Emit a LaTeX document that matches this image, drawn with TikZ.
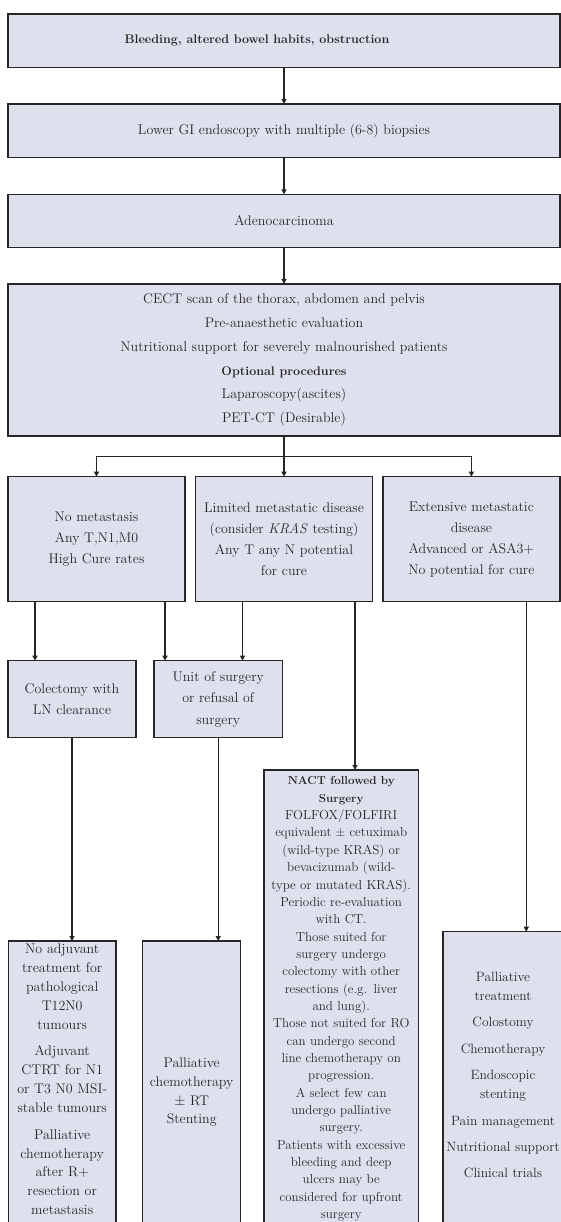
\documentclass[tikz,border=0pt]{standalone}
\usepackage{tikz}
\usetikzlibrary{arrows.meta}
\definecolor{flowfill}{RGB}{223,224,238}

\begin{document}
\begin{tikzpicture}[
			x=1pt, y=-1pt,
			box/.style={draw=black!85, line width=1.3pt, fill=flowfill, text=black!85, align=center, inner xsep=2pt, inner ysep=2pt, outer sep=0pt},
			topbox/.style={box, minimum width=552pt, text width=540pt, font=\fontsize{14}{17}\selectfont},
			colbox/.style={box, minimum width=177pt, minimum height=125pt, text width=170pt, font=\fontsize{14}{21}\selectfont},
			subbox/.style={box, minimum height=77pt, font=\fontsize{14}{21.5}\selectfont},
			openbox/.style={box, anchor=north, text height=10pt, text depth=520pt},
			arr/.style={draw=black!85, line width=1.2pt, -{Triangle[length=5pt,width=5pt]}},
			]
			\useasboundingbox (0,0) rectangle (561,1222);
			\clip (0,0) rectangle (561,1222);
			
			%% ── Work-up chain ──────────────────────────────────────────────────────
			\node[topbox, minimum height=53.3pt] (sympt) at (284,40.7) {\fontsize{12.5}{15}\selectfont\bfseries Bleeding, altered bowel habits, obstruction\hspace*{54pt}};
			\node[topbox, minimum height=53.3pt] (endo) at (284,130.7) {Lower GI endoscopy with multiple (6-8) biopsies};
			\node[topbox, minimum height=53.4pt] (adeno) at (284,221) {Adenocarcinoma};
			\node[topbox, minimum height=152pt, font=\fontsize{14}{23.8}\selectfont] (workup) at (284,360) {CECT scan of the thorax, abdomen and pelvis\\ Pre-anaesthetic evaluation\\ Nutritional support for severely malnourished patients\\ {\fontsize{12.5}{15}\selectfont\bfseries Optional procedures}\\ Laparoscopy(ascites)\\ PET-CT (Desirable)};
			
			%% ── Metastatic status ──────────────────────────────────────────────────
			\node[colbox] (nomet) at (96.5,539.2) {No metastasis\\ Any T,N1,M0\\ High Cure rates};
			\node[colbox] (limmet) at (284,539.2) {Limited metastatic disease\\ (consider \textit{KRAS} testing)\\ Any T any N potential\\ for cure};
			\node[colbox] (extmet) at (471.4,539.2) {Extensive metastatic\\ disease\\ Advanced or ASA3+\\ No potential for cure};
			
			%% ── Surgery ────────────────────────────────────────────────────────────
			\node[subbox, minimum width=128pt, text width=120pt] (colect) at (72,699.2) {Colectomy with\\ LN clearance};
			\node[subbox, minimum width=128.3pt, text width=120pt] (unfit) at (218.2,699.2) {Unit of surgery\\ or refusal of\\ surgery};
			
			%% ── Treatment ──────────────────────────────────────────────────────────
			\node[openbox, text width=150.3pt, inner ysep=4.9pt, font=\fontsize{13}{17.35}\selectfont] (nact) at (341.2,770) {{\fontsize{11.6}{14}\selectfont\bfseries NACT followed by\\ Surgery}\\ FOLFOX/FOLFIRI\\ equivalent $\pm$ cetuximab\\ (wild-type KRAS) or\\ bevacizumab (wild-\\ type or mutated KRAS).\\ Periodic re-evaluation\\ with CT.\\ Those suited for\\ surgery undergo\\ colectomy with other\\ resections (e.g. liver\\ and lung).\\ Those not suited for RO\\ can undergo second\\ line chemotherapy on\\ progression.\\ A select few can\\ undergo palliative\\ surgery.\\ Patients with excessive\\ bleeding and deep\\ ulcers may be\\ considered for upfront\\ surgery};
			\node[openbox, text width=103.7pt, inner ysep=2.8pt, font=\fontsize{14}{18.9}\selectfont] (noadj) at (62.2,941) {No adjuvant\\ treatment for\\ pathological\\ T12N0\\ tumours\\[7.6pt] Adjuvant\\ CTRT for N1\\ or T3 N0 MSI-\\ stable tumours\\[7.6pt] Palliative\\ chemotherapy\\ after R+\\ resection or\\ metastasis};
			\node[openbox, text width=94pt, inner ysep=116.8pt, font=\fontsize{14}{18.6}\selectfont] (palchemo) at (191.7,941) {Palliative\\ chemotherapy\\ $\pm$ RT\\ Stenting};
			\node[openbox, text width=116pt, inner ysep=39.5pt, font=\fontsize{13.5}{19.5}\selectfont] (paltx) at (503,931.7) {Palliative\\ treatment\\[6.7pt] Colostomy\\[6.7pt] Chemotherapy\\[6.7pt] Endoscopic\\ stenting\\[6.7pt] Pain management\\[6.7pt] Nutritional support\\[6.7pt] Clinical trials};
			
			\draw[arr] (sympt) -- (endo);
			\draw[arr] (endo) -- (adeno);
			\draw[arr] (adeno) -- (workup);
			\coordinate (split) at (284,456.7);
			\draw[draw=black!85, line width=1.2pt] (workup) -- (split);
			\draw[arr] (split) -| (nomet);
			\draw[arr] (split) -- (limmet);
			\draw[arr] (split) -| (extmet);
			\draw[arr] ([xshift=-61.5pt]nomet.south) coordinate (p1) -- (p1 |- colect.north);
			\draw[arr] ([xshift=68.5pt]nomet.south) coordinate (p2) -- (p2 |- unfit.north);
			\draw[arr] ([xshift=-41.5pt]limmet.south) coordinate (p3) -- (p3 |- unfit.north);
			\draw[arr] ([xshift=71pt]limmet.south) coordinate (p4) -- (p4 |- nact.north);
			\draw[arr] ([xshift=54.9pt]extmet.south) coordinate (p5) -- (p5 |- paltx.north);
			\draw[arr] (colect.south) -- (colect.south |- noadj.north);
			\draw[arr] (unfit.south) -- (unfit.south |- palchemo.north);
			
		\end{tikzpicture}
\end{document}
